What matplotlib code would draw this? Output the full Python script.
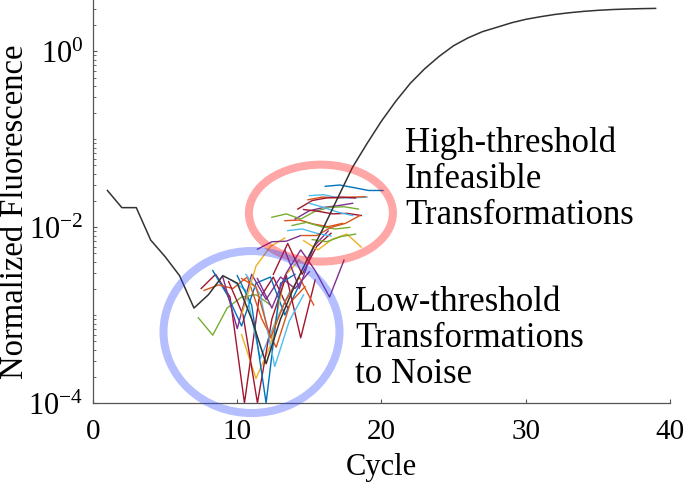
# Libraries
import matplotlib.pyplot as plt
import numpy as np
from matplotlib.patches import Ellipse
from matplotlib.ticker import LogLocator, NullFormatter, LogFormatterSciNotation

plt.rcParams['font.family'] = ['Liberation Serif', 'DejaVu Serif']
plt.rcParams['mathtext.fontset'] = 'custom'
plt.rcParams['mathtext.rm'] = 'Liberation Serif'
plt.rcParams['mathtext.it'] = 'Liberation Serif:italic'

# Reference amplification curve (cycle 1..39)
cycles = np.arange(1, 40)
amplification = [0.026, 0.0166, 0.0166, 0.0071, 0.0046, 0.0028, 0.0012, 0.0017,
                 0.0028, 0.0023, 0.0009, 0.00028, 0.0009, 0.0022, 0.0048, 0.010,
                 0.022, 0.048, 0.089, 0.16, 0.27, 0.43, 0.63, 0.87, 1.15, 1.41,
                 1.66, 1.86, 2.09, 2.29, 2.45, 2.60, 2.72, 2.82, 2.90, 2.96,
                 3.00, 3.03, 3.05]

# Low-threshold transformations (start cycle, values at unit steps)
low_starts = [7.3, 7.5, 8.3, 7.7, 9.0, 9.6, 10.3, 9.4, 10.0, 10.6, 10.3, 11.4, 10.3, 12.5, 13.3]
low_values = [
    [9.3e-4, 5.9e-4, 1.2e-3, 1.6e-3, 1.7e-3, 1.3e-3],
    [2.0e-3, 2.9e-3, 1.6e-3, 1.0e-4, 1.5e-3, 2.7e-3, 1.2e-3],
    [3.2e-3, 1.7e-3, 7.5e-4, 2.3e-3, 2.7e-3, 1.0e-3, 2.2e-3],
    [1.9e-3, 2.2e-3, 2.0e-3, 2.7e-3, 9.0e-4, 4.3e-4, 1.4e-3, 2.1e-3],
    [2.7e-3, 7.0e-4, 2.9e-3, 1.5e-3, 2.7e-3, 2.0e-3, 3.1e-3],
    [2.5e-3, 1.9e-3, 3.2e-4, 8.0e-4, 1.8e-3],
    [6.0e-4, 1.9e-4, 4.5e-4, 2.8e-3, 4.2e-3],
    [2.4e-3, 1.0e-3, 1.0e-4, 9.0e-4, 2.8e-3, 5.5e-4, 2.5e-3],
    [2.8e-3, 1.3e-3, 1.0e-4, 2.3e-3, 2.9e-3],
    [2.9e-3, 1.7e-3, 2.6e-4, 8.5e-4, 1.7e-3],
    [2.6e-3, 2.1e-3, 5.5e-4, 1.4e-3, 2.7e-3, 1.3e-3],
    [2.6e-3, 1.2e-3, 3.0e-3, 5.5e-3, 3.2e-3, 1.6e-3, 4.2e-3],
    [1.0e-3, 3.6e-3, 6.0e-3, 7.5e-3],
    [2.9e-3, 6.5e-3, 2.9e-3, 6.0e-3, 8.5e-3],
    [5.5e-3, 2.0e-3, 6.0e-3, 9.0e-3],
]
low_colors = ['#77AC30', '#A2142F', '#0072BD', '#D95319', '#7E2F8E', '#4DBEEE', '#EDB120',
              '#A2142F', '#0072BD', '#4DBEEE', '#D95319', '#7E2F8E', '#EDB120', '#A2142F', '#7E2F8E']

# High-threshold transformations
high_starts = [16.1, 15.0, 14.9, 14.2, 14.0, 12.4, 14.6, 15.0, 13.3, 13.8, 13.5, 14.5, 14.6, 15.2, 11.4]
high_values = [
    [0.029, 0.030, 0.028, 0.026, 0.026],
    [0.0227, 0.0233, 0.0214, 0.0214, 0.0219],
    [0.0204, 0.0219, 0.0214, 0.0219, 0.0221],
    [0.016, 0.020, 0.0214, 0.0219, 0.0214],
    [0.0123, 0.0153, 0.0167, 0.0175, 0.0186],
    [0.0129, 0.0141, 0.0123, 0.0151, 0.0167, 0.0170, 0.016],
    [0.0158, 0.0151, 0.0141, 0.0143, 0.0135],
    [0.0186, 0.0167, 0.0147, 0.0135],
    [0.0118, 0.012, 0.0108, 0.0101, 0.011],
    [0.0104, 0.0113, 0.0101, 0.0095, 0.0099],
    [0.0091, 0.0095, 0.0085, 0.0079],
    [0.008, 0.008, 0.0099, 0.011, 0.0135],
    [0.007, 0.0055, 0.0073, 0.0083, 0.0059],
    [0.0072, 0.0068, 0.0078, 0.0083],
    [0.0056, 0.0068, 0.0069, 0.0080],
]
high_colors = ['#0072BD', '#4DBEEE', '#D95319', '#A2142F', '#7E2F8E', '#77AC30', '#A2142F',
               '#4DBEEE', '#D95319', '#77AC30', '#4DBEEE', '#D95319', '#EDB120', '#77AC30', '#7E2F8E']

fig = plt.figure(figsize=(6.85, 4.85), dpi=100)
ax = fig.add_axes([93 / 685, 81 / 485, 577 / 685, 404 / 485])

for starts, values, colors in [(low_starts, low_values, low_colors),
                               (high_starts, high_values, high_colors)]:
    for x0, vals, c in zip(starts, values, colors):
        xs = x0 + np.arange(len(vals))
        ax.plot(xs, vals, color=c, linewidth=1.0)

ax.plot(cycles, amplification, color='#333333', linewidth=1.1)

ax.set_yscale('log')
ax.set_xlim(0, 40)
ax.set_ylim(1e-4, 3.9)
ax.set_xticks([0, 10, 20, 30, 40])
ax.set_yticks([1e-4, 1e-2, 1e0])
ax.yaxis.set_major_formatter(LogFormatterSciNotation())
ax.yaxis.set_minor_locator(LogLocator(base=10, subs=np.arange(1, 10), numticks=20))
ax.yaxis.set_minor_formatter(NullFormatter())

for s in ['top', 'right']:
    ax.spines[s].set_visible(False)
for s in ['left', 'bottom']:
    ax.spines[s].set_color('#555555')
    ax.spines[s].set_linewidth(0.9)

ax.tick_params(axis='both', which='both', direction='in', colors='#555555', labelcolor='black')
ax.tick_params(axis='x', which='major', length=3, labelsize=21, pad=11)
ax.tick_params(axis='y', which='major', length=3, labelsize=22, pad=7)
ax.tick_params(axis='y', which='minor', length=1.8)

ax.set_xlabel('Cycle', fontsize=22, va='center')
ax.xaxis.set_label_coords(0.5, -0.158)
ax.set_ylabel('Normalized Fluorescence', fontsize=23.5, va='center')
ax.yaxis.set_label_coords(-0.135, 0.475)

# Highlight rings
ax.add_patch(Ellipse((0.395, 0.470), 0.2496, 0.240, transform=ax.transAxes,
                     fill=False, edgecolor=(1.0, 0.0, 0.0), alpha=0.35, linewidth=5.8,
                     clip_on=False, zorder=5))
ax.add_patch(Ellipse((0.2747, 0.1757), 0.305, 0.401, transform=ax.transAxes,
                     fill=False, edgecolor=(0.2, 0.3, 1.0), alpha=0.36, linewidth=5.8,
                     clip_on=False, zorder=5))

ax.text(0.541, 0.557, 'High-threshold\nInfeasible\nTransformations', transform=ax.transAxes,
        fontsize=25, ha='left', va='center', linespacing=1.12)
ax.text(0.454, 0.161, 'Low-threshold\nTransformations\nto Noise', transform=ax.transAxes,
        fontsize=25, ha='left', va='center', linespacing=1.12)

plt.savefig('out.png', dpi=100)
